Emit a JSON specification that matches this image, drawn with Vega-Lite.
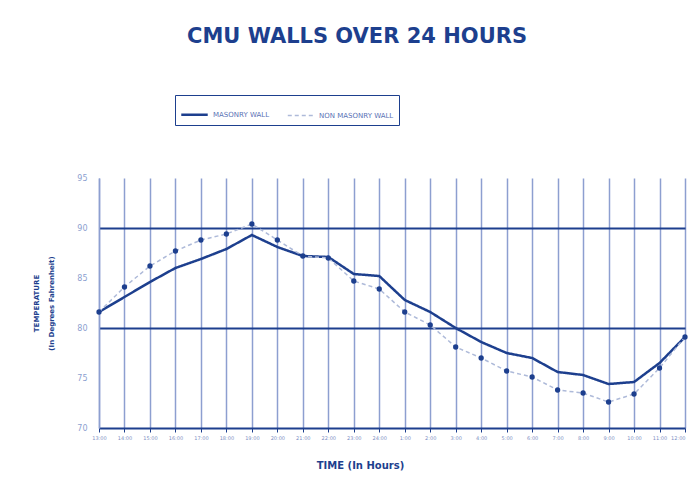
{
  "$schema": "https://vega.github.io/schema/vega-lite/v6.json",
  "autosize": {"type": "none"},
  "width": 586,
  "height": 250,
  "padding": {"left": 99, "top": 178, "right": 6, "bottom": 61},
  "background": "white",
  "title": {
    "text": "CMU WALLS OVER 24 HOURS",
    "font": "DejaVu Sans",
    "fontSize": 21,
    "fontWeight": "bold",
    "color": "#1d3f8e",
    "anchor": "middle",
    "dx": -35,
    "offset": 48
  },
  "data": {
    "values": [
      {"t": "13:00", "series": "MASONRY WALL", "temp": 81.6},
      {"t": "14:00", "series": "MASONRY WALL", "temp": 83.1},
      {"t": "15:00", "series": "MASONRY WALL", "temp": 84.6},
      {"t": "16:00", "series": "MASONRY WALL", "temp": 86.0},
      {"t": "17:00", "series": "MASONRY WALL", "temp": 86.9},
      {"t": "18:00", "series": "MASONRY WALL", "temp": 87.9},
      {"t": "19:00", "series": "MASONRY WALL", "temp": 89.3},
      {"t": "20:00", "series": "MASONRY WALL", "temp": 88.1},
      {"t": "21:00", "series": "MASONRY WALL", "temp": 87.2},
      {"t": "22:00", "series": "MASONRY WALL", "temp": 87.1},
      {"t": "23:00", "series": "MASONRY WALL", "temp": 85.4},
      {"t": "24:00", "series": "MASONRY WALL", "temp": 85.2},
      {"t": "1:00", "series": "MASONRY WALL", "temp": 82.8},
      {"t": "2:00", "series": "MASONRY WALL", "temp": 81.6},
      {"t": "3:00", "series": "MASONRY WALL", "temp": 80.0},
      {"t": "4:00", "series": "MASONRY WALL", "temp": 78.6},
      {"t": "5:00", "series": "MASONRY WALL", "temp": 77.5},
      {"t": "6:00", "series": "MASONRY WALL", "temp": 77.0},
      {"t": "7:00", "series": "MASONRY WALL", "temp": 75.6},
      {"t": "8:00", "series": "MASONRY WALL", "temp": 75.3},
      {"t": "9:00", "series": "MASONRY WALL", "temp": 74.4},
      {"t": "10:00", "series": "MASONRY WALL", "temp": 74.6},
      {"t": "11:00", "series": "MASONRY WALL", "temp": 76.5},
      {"t": "12:00", "series": "MASONRY WALL", "temp": 79.1},
      {"t": "13:00", "series": "NON MASONRY WALL", "temp": 81.6},
      {"t": "14:00", "series": "NON MASONRY WALL", "temp": 84.1},
      {"t": "15:00", "series": "NON MASONRY WALL", "temp": 86.2},
      {"t": "16:00", "series": "NON MASONRY WALL", "temp": 87.7},
      {"t": "17:00", "series": "NON MASONRY WALL", "temp": 88.8},
      {"t": "18:00", "series": "NON MASONRY WALL", "temp": 89.4},
      {"t": "19:00", "series": "NON MASONRY WALL", "temp": 90.4},
      {"t": "20:00", "series": "NON MASONRY WALL", "temp": 88.8},
      {"t": "21:00", "series": "NON MASONRY WALL", "temp": 87.2},
      {"t": "22:00", "series": "NON MASONRY WALL", "temp": 87.0},
      {"t": "23:00", "series": "NON MASONRY WALL", "temp": 84.7},
      {"t": "24:00", "series": "NON MASONRY WALL", "temp": 83.9},
      {"t": "1:00", "series": "NON MASONRY WALL", "temp": 81.6},
      {"t": "2:00", "series": "NON MASONRY WALL", "temp": 80.3},
      {"t": "3:00", "series": "NON MASONRY WALL", "temp": 78.1},
      {"t": "4:00", "series": "NON MASONRY WALL", "temp": 77.0},
      {"t": "5:00", "series": "NON MASONRY WALL", "temp": 75.7},
      {"t": "6:00", "series": "NON MASONRY WALL", "temp": 75.1},
      {"t": "7:00", "series": "NON MASONRY WALL", "temp": 73.8},
      {"t": "8:00", "series": "NON MASONRY WALL", "temp": 73.5},
      {"t": "9:00", "series": "NON MASONRY WALL", "temp": 72.6},
      {"t": "10:00", "series": "NON MASONRY WALL", "temp": 73.4},
      {"t": "11:00", "series": "NON MASONRY WALL", "temp": 76.0},
      {"t": "12:00", "series": "NON MASONRY WALL", "temp": 79.1}
    ]
  },
  "encoding": {
    "x": {
      "field": "t",
      "type": "ordinal",
      "sort": null,
      "scale": {"type": "point", "padding": 0},
      "axis": {
        "title": "TIME (In Hours)",
        "titleFont": "DejaVu Sans",
        "titleFontSize": 10,
        "titleFontWeight": "bold",
        "titleColor": "#1d3f8e",
        "titleX": 261,
        "titleY": 37,
        "titleAlign": "center",
        "titleBaseline": "middle",
        "labelAngle": 0,
        "labelFont": "DejaVu Sans",
        "labelFontSize": 5,
        "labelColor": "#7d8fc4",
        "labelPadding": 3,
        "labelAlign": {"condition": {"test": "datum.label == '12:00'", "value": "right"}, "value": "center"},
        "labelOverlap": false,
        "domainColor": "#1d3f8e",
        "domainWidth": 2,
        "tickColor": "#1d3f8e",
        "tickSize": 4,
        "grid": true,
        "gridColor": "#8d9fd0",
        "gridWidth": 1.5
      }
    },
    "y": {
      "field": "temp",
      "type": "quantitative",
      "scale": {"domain": [70, 95], "zero": false, "nice": false},
      "axis": {
        "values": [70, 75, 80, 85, 90, 95],
        "title": ["TEMPERATURE", "(In Degrees Fahrenheit)"],
        "titleFont": "DejaVu Sans",
        "titleFontSize": 7,
        "titleFontWeight": "bold",
        "titleColor": "#1d3f8e",
        "titleLineHeight": 15,
        "titlePadding": 22,
        "labelFont": "DejaVu Sans",
        "labelFontSize": 8,
        "labelColor": "#8d9fd0",
        "labelPadding": 12,
        "domainColor": "#8d9fd0",
        "domainWidth": 1.5,
        "ticks": false,
        "grid": true,
        "gridColor": "#1d3f8e",
        "gridWidth": 2,
        "gridOpacity": {"condition": {"test": "datum.value == 80 || datum.value == 90", "value": 1}, "value": 0}
      }
    }
  },
  "layer": [
    {
      "mark": {"type": "line"},
      "encoding": {
        "color": {
          "field": "series",
          "type": "nominal",
          "scale": {"domain": ["MASONRY WALL", "NON MASONRY WALL"], "range": ["#1d3f8e", "#aebad9"]},
          "legend": {
            "orient": "none",
            "legendX": 76,
            "legendY": -83,
            "direction": "horizontal",
            "title": null,
            "labelFont": "DejaVu Sans",
            "labelFontSize": 7,
            "labelColor": "#5a72b5",
            "symbolType": "stroke",
            "symbolSize": 700,
            "symbolStrokeWidth": 2,
            "strokeColor": "#1d3f8e",
            "padding": 5,
            "columnPadding": 14
          }
        },
        "strokeDash": {
          "field": "series",
          "type": "nominal",
          "scale": {"domain": ["MASONRY WALL", "NON MASONRY WALL"], "range": [[1, 0], [4, 3]]},
          "legend": null
        },
        "strokeWidth": {
          "field": "series",
          "type": "nominal",
          "scale": {"domain": ["MASONRY WALL", "NON MASONRY WALL"], "range": [2.5, 1.5]},
          "legend": null
        }
      }
    },
    {
      "transform": [{"filter": "datum.series == 'NON MASONRY WALL'"}],
      "mark": {"type": "point", "filled": true, "color": "#1d3f8e", "size": 28, "opacity": 1}
    }
  ],
  "config": {
    "view": {"stroke": null}
  }
}
